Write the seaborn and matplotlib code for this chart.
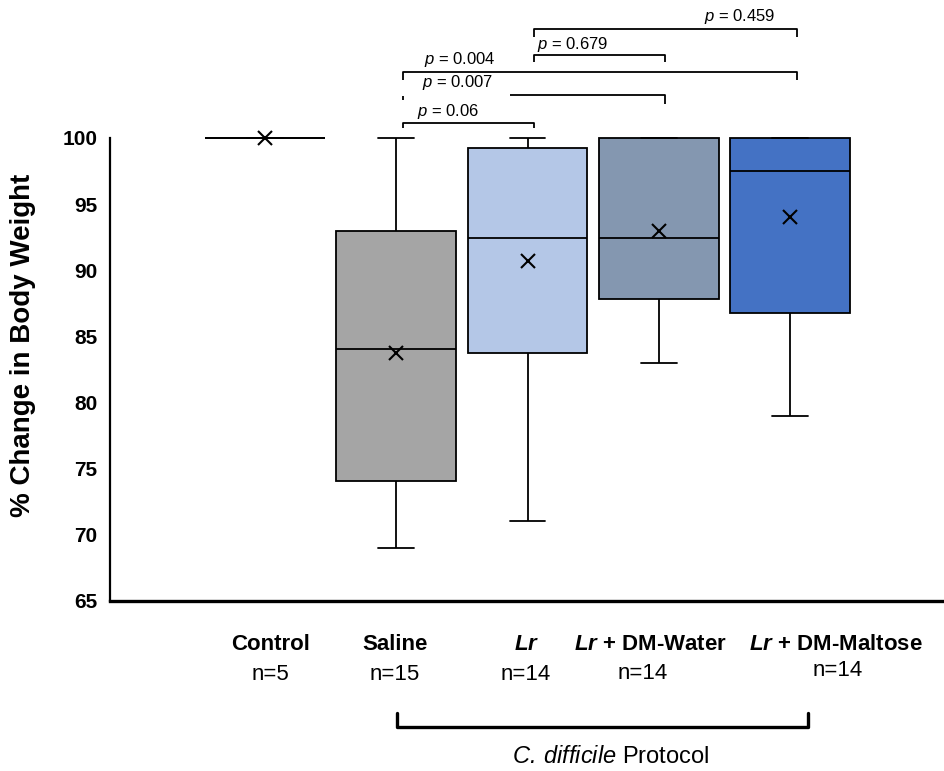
import numpy as np
import pandas as pd
import matplotlib
matplotlib.use("Agg")
import matplotlib.pyplot as plt
import matplotlib.transforms as mtransforms
import seaborn as sns

# ---------------- data ----------------
groups = ["Control", "Saline", "Lr", "Lr + DM-Water", "Lr + DM-Maltose"]
n_sizes = [5, 15, 14, 14, 14]
whisker_low = [100.0, 69.0, 71.05, 83.0, 79.0]
q1 = [100.0, 74.05, 83.75, 87.8, 86.8]
median = [100.0, 84.05, 92.45, 92.45, 97.5]
q3 = [100.0, 92.95, 99.25, 100.0, 100.0]
whisker_high = [100.0, 100.0, 100.0, 100.0, 100.0]
means = [100.0, 83.75, 90.7, 92.95, 94.0]
yticks = [65, 70, 75, 80, 85, 90, 95, 100]
p_labels = ["0.06", "0.007", "0.004", "0.679", "0.459"]
p_pairs = [(1, 2), (1, 3), (1, 4), (2, 3), (2, 4)]

# ---------------- style ----------------
box_colors = ["#A5A5A5", "#A5A5A5", "#B4C7E7", "#8497B0", "#4472C4"]

sns.set_theme(style="white")
plt.rcParams["font.family"] = ["Liberation Sans", "DejaVu Sans"]
plt.rcParams["mathtext.fontset"] = "custom"
plt.rcParams["mathtext.it"] = "Liberation Sans:italic:bold"
plt.rcParams["mathtext.sf"] = "Liberation Sans:italic"
plt.rcParams["mathtext.rm"] = "Liberation Sans"
plt.rcParams["text.color"] = "black"
plt.rcParams["axes.labelcolor"] = "black"
plt.rcParams["ytick.color"] = "black"
plt.rcParams["xtick.color"] = "black"

# five-number summary per group as long-form table
rows = []
for g, a, b, c, d, e in zip(groups, whisker_low, q1, median, q3, whisker_high):
    for v in (a, b, c, d, e):
        rows.append({"group": g, "value": v})
df = pd.DataFrame(rows)
df_mean = pd.DataFrame({"group": groups, "mean": means})

fig = plt.figure(figsize=(9.45, 7.71), dpi=100)
ax = fig.add_axes([110 / 945, (771 - 601) / 771, 835 / 945, 601 / 771])

sns.boxplot(data=df, x="group", y="value", hue="group", order=groups,
            hue_order=groups, palette=box_colors, saturation=1, width=0.91,
            whis=(0, 100), showfliers=False, linecolor="black", linewidth=1.3,
            legend=False, capwidths=0.27, ax=ax)
sns.pointplot(data=df_mean, x="group", y="mean", order=groups, color="black",
              errorbar=None, marker="x", linestyle="none", markersize=10,
              markeredgewidth=1.5, ax=ax, zorder=5)

# axes
ax.set_xlim(-1.18, 5.18)
ax.set_ylim(65, 110.43)
ax.set_yticks(yticks)
ax.set_yticklabels([str(t) for t in yticks], fontsize=15, fontweight="bold")
ax.tick_params(axis="y", length=0, pad=9)
ax.set_xticks([])
ax.set_xlabel("")
ax.set_ylabel("% Change in Body Weight", fontsize=20, fontweight="bold")
ax.yaxis.set_label_coords(-0.0886, 0.426)
for s in ["top", "right"]:
    ax.spines[s].set_visible(False)
ax.spines["left"].set_bounds(65, 100)
ax.spines["left"].set_linewidth(1.6)
ax.spines["bottom"].set_linewidth(2.4)
for s in ["left", "bottom"]:
    ax.spines[s].set_color("black")

# significance brackets
brk_h = [101.13, 103.25, 104.99, 106.27, 108.24]
brk_leg = [100.76, 102.6, 104.38, 105.74, 107.63]
txt_xy = [(1.394, 101.97), (1.47, 104.16), (1.485, 105.9), (2.346, 107.03), (3.618, 109.22)]
off = 0.05
for k, ((i, j), lab) in enumerate(zip(p_pairs, p_labels)):
    x0, x1 = i + off, j + off
    h, lg = brk_h[k], brk_leg[k]
    kw = dict(color="black", lw=1.3, solid_capstyle="butt", clip_on=False)
    if lab == "0.007":
        ax.plot([x0, x0], [102.87, 103.2], **kw)
        ax.plot([1.866, x1, x1], [h, h, lg], **kw)
    else:
        ax.plot([x0, x0, x1, x1], [lg, h, h, lg], **kw)
    ax.text(txt_xy[k][0], txt_xy[k][1], r"$\mathsf{p}$ = " + lab, ha="center",
            va="center", fontsize=12, clip_on=False)

# category labels
trans = mtransforms.blended_transform_factory(ax.transData, ax.transAxes)
label_x = [0.04, 0.99, 1.99, 2.94, 4.35]
n_x = [0.04, 0.99, 1.99, 2.88, 4.36]
n_y = [-0.1215, -0.1215, -0.1215, -0.1199, -0.1150]
for k, g in enumerate(groups):
    lab = g.replace("Lr", r"$\mathit{Lr}$")
    ax.text(label_x[k], -0.0732, lab, transform=trans, ha="center", va="center",
            fontsize=16, fontweight="bold", clip_on=False)
    ax.text(n_x[k], n_y[k], f"n={n_sizes[k]}", transform=trans, ha="center",
            va="center", fontsize=16, clip_on=False)

# protocol bracket
ax.plot([1.005, 1.005, 4.14, 4.14], [-0.186, -0.2097, -0.2097, -0.186],
        transform=trans, color="black", lw=2.4, clip_on=False)
ax.text(2.63, -0.26, r"$\mathsf{C.\,difficile}$ Protocol", transform=trans,
        ha="center", va="center", fontsize=17, clip_on=False)

fig.savefig("out.png", dpi=100)
